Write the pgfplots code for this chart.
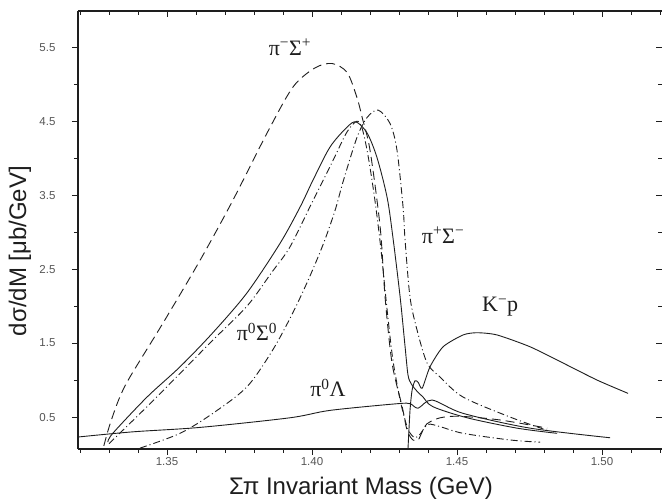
\documentclass[border=0pt]{standalone}
\usepackage{fontspec}
\setmainfont{Liberation Sans}
\newfontfamily\serifl{Liberation Serif}
\usepackage{pgfplots}
\pgfplotsset{compat=1.18}
\definecolor{ink}{RGB}{30,30,30}
\definecolor{ticktxt}{RGB}{85,85,85}

\tikzset{
  dashA/.style={ink, line width=0.9pt, dash pattern=on 9pt off 5pt},
  dotB/.style={ink, line width=0.9pt, dash pattern=on 7pt off 3pt on 1pt off 3pt},
  solidS/.style={ink, line width=0.9pt},
  lbl/.style={font=\serifl\fontsize{22}{24}\selectfont, ink, fill=white, inner sep=1pt},
}
\pgfplotsset{
  frame/.style={
    at={(78pt,54pt)}, anchor=south west,
    scale only axis, width=584pt, height=438pt,
    xmin=1.3193, xmax=1.5207, ymin=0.068, ymax=5.99,
    xtick={1.35,1.40,1.45,1.50},
    minor xtick={1.32,1.33,1.34,1.36,1.37,1.38,1.39,1.41,1.42,1.43,1.44,1.46,1.47,1.48,1.49,1.51,1.52},
    ytick={0.5,1.5,2.5,3.5,4.5,5.5},
    minor ytick={1,2,3,4,5},
    major tick length=6pt, minor tick length=4pt,
    every tick/.style={ink, line width=0.8pt},
    axis line style={ink, line width=2pt, -},
  },
}

\begin{document}
\begin{tikzpicture}
\useasboundingbox (0,0) rectangle (662pt,503pt);

% top edge and right-hand ticks, pointing inwards
\begin{axis}[frame,
  axis x line*=top, axis y line*=right,
  y axis line style={draw=none},
  tick align=inside,
  xticklabels={}, yticklabels={}]
\end{axis}

\begin{axis}[frame,
  axis x line*=bottom, axis y line*=left,
  tick align=outside,
  xticklabels={1.35,1.40,1.45,1.50},
  yticklabels={0.5,1.5,2.5,3.5,4.5,5.5},
  ticklabel style={font=\fontsize{11.5}{13}\selectfont, text=ticktxt},
  yticklabel style={xshift=-13pt},
  xticklabel style={yshift=1pt},
  clip=true]

% pi- Sigma+
\addplot[dashA, smooth, tension=0.5] coordinates {
(1.3282,0.11)(1.3303,0.40)(1.3335,0.75)(1.3372,1.04)(1.3486,1.77)(1.3614,2.62)(1.3727,3.43)(1.3845,4.34)
(1.3934,4.96)(1.4010,5.22)(1.4069,5.28)(1.4121,5.16)(1.4155,4.82)(1.4173,4.55)
(1.4200,4.11)(1.4235,3.07)(1.4252,2.12)(1.4276,1.23)(1.4311,0.64)(1.4328,0.32)
(1.4348,0.19)(1.4366,0.19)(1.4380,0.30)(1.4397,0.41)(1.4442,0.49)(1.4511,0.51)
(1.4649,0.46)(1.4811,0.35)};

% solid, peak near 4.5
\addplot[solidS, smooth, tension=0.5] coordinates {
(1.3296,0.16)(1.3313,0.28)(1.3431,0.77)(1.3545,1.18)(1.3658,1.64)(1.3776,2.18)
(1.3890,2.85)(1.3959,3.34)(1.4003,3.70)(1.4062,4.15)(1.4121,4.42)(1.4152,4.49)
(1.4190,4.34)(1.4224,4.01)(1.4259,3.47)(1.4279,2.93)(1.4304,2.12)(1.4321,1.45)
(1.4331,1.07)(1.4342,0.95)(1.4362,0.85)(1.4383,0.77)(1.4417,0.64)(1.4535,0.49)
(1.4707,0.35)(1.4845,0.28)};

% pi0 Sigma0
\addplot[dotB, smooth, tension=0.5] coordinates {
(1.3300,0.14)(1.3431,0.64)(1.3545,1.09)(1.3658,1.54)(1.3776,2.00)(1.3860,2.45)
(1.3924,2.80)(1.4000,3.40)(1.4070,3.95)(1.4120,4.35)(1.4155,4.50)(1.4173,4.40)
(1.4193,4.04)(1.4217,3.43)(1.4238,2.76)(1.4259,1.95)(1.4279,1.27)(1.4304,0.73)
(1.4321,0.46)(1.4335,0.30)(1.4355,0.22)(1.4373,0.27)(1.4400,0.40)(1.4442,0.37)
(1.4521,0.28)(1.4683,0.19)(1.4787,0.16)};

% pi+ Sigma-
\addplot[dotB, smooth, tension=0.5] coordinates {
(1.3407,0.08)(1.3545,0.28)(1.3658,0.55)(1.3776,0.91)(1.3865,1.41)(1.3934,1.91)
(1.3990,2.38)(1.4040,2.85)(1.4080,3.30)(1.4107,3.68)(1.4155,4.28)(1.4190,4.55)
(1.4228,4.65)(1.4269,4.47)(1.4293,4.11)(1.4314,3.34)(1.4321,2.89)(1.4338,2.12)
(1.4362,1.68)(1.4397,1.23)(1.4442,1.04)(1.4521,0.77)(1.4683,0.50)(1.4811,0.32)};

% K- p
\addplot[solidS, smooth, tension=0.4] coordinates {
(1.4331,0.07)(1.4338,0.59)(1.4345,0.86)(1.4355,0.99)(1.4366,0.97)(1.4380,0.89)
(1.4407,1.18)(1.4452,1.45)(1.4521,1.61)(1.4569,1.64)(1.4638,1.61)(1.4752,1.45)
(1.4866,1.23)(1.4983,1.00)(1.5090,0.82)};

% pi0 Lambda
\addplot[solidS, smooth, tension=0.5] coordinates {
(1.3193,0.23)(1.3382,0.30)(1.3614,0.36)(1.3924,0.49)(1.4062,0.59)(1.4293,0.68)
(1.4338,0.68)(1.4366,0.62)(1.4414,0.73)(1.4521,0.55)(1.4752,0.35)(1.5028,0.22)};

\node[lbl] at (axis cs:1.3924,5.50) {π\textsuperscript{−}Σ\textsuperscript{+}};
\node[lbl] at (axis cs:1.4452,2.96) {π\textsuperscript{+}Σ\textsuperscript{−}};
\node[lbl] at (axis cs:1.4649,1.99) {K\textsuperscript{−}p};
\node[lbl, fill=none] at (axis cs:1.3810,1.65) {π\textsuperscript{0}Σ\textsuperscript{0}};
\node[lbl] at (axis cs:1.4055,0.89) {π\textsuperscript{0}Λ};
\end{axis}

\node[font=\fontsize{24}{28}\selectfont, ink] at (361pt,15pt) {Σπ Invariant Mass (GeV)};
\node[font=\fontsize{24}{28}\selectfont, ink, rotate=90] at (20pt,252pt) {dσ/dM [μb/GeV]};
\end{tikzpicture}
\end{document}
